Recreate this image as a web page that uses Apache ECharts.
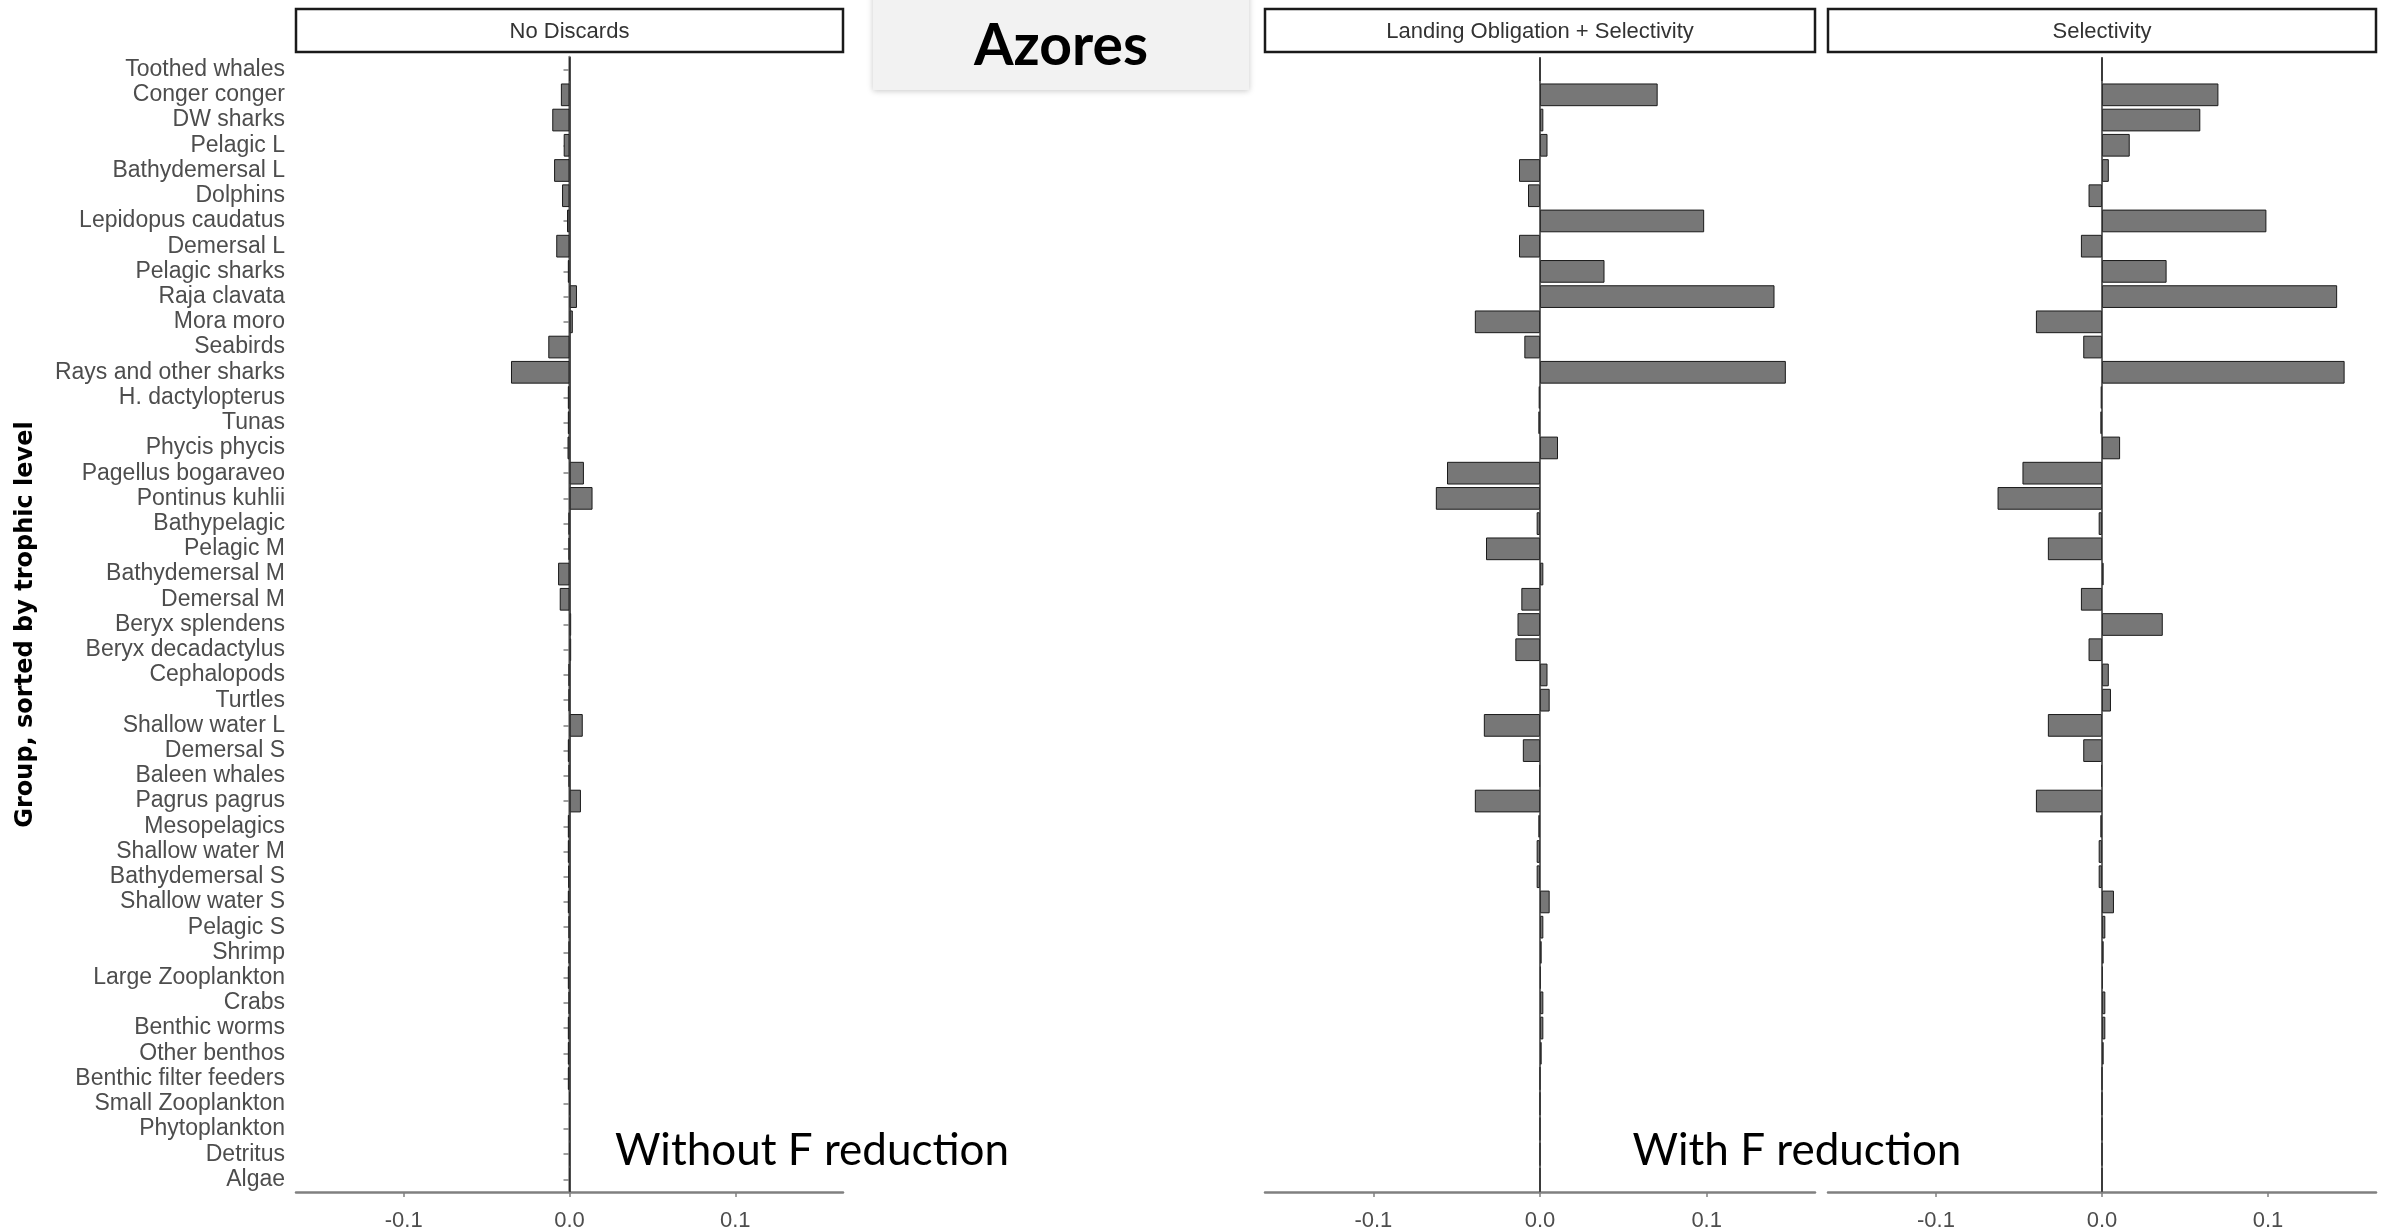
<!DOCTYPE html>
<html>
<head>
<meta charset="utf-8">
<title>Azores</title>
<script src="https://cdn.jsdelivr.net/npm/echarts@6/dist/echarts.min.js"></script>
<style>
  html, body { margin: 0; padding: 0; background: #ffffff; }
  #chart { width: 2384px; height: 1231px; }
</style>
</head>
<body>
<div id="chart"></div>
<script>
// Functional groups, sorted by trophic level (top to bottom)
const groups = [
  'Toothed whales', 'Conger conger', 'DW sharks', 'Pelagic L', 'Bathydemersal L',
  'Dolphins', 'Lepidopus caudatus', 'Demersal L', 'Pelagic sharks', 'Raja clavata',
  'Mora moro', 'Seabirds', 'Rays and other sharks', 'H. dactylopterus', 'Tunas',
  'Phycis phycis', 'Pagellus bogaraveo', 'Pontinus kuhlii', 'Bathypelagic', 'Pelagic M',
  'Bathydemersal M', 'Demersal M', 'Beryx splendens', 'Beryx decadactylus', 'Cephalopods',
  'Turtles', 'Shallow water L', 'Demersal S', 'Baleen whales', 'Pagrus pagrus',
  'Mesopelagics', 'Shallow water M', 'Bathydemersal S', 'Shallow water S', 'Pelagic S',
  'Shrimp', 'Large Zooplankton', 'Crabs', 'Benthic worms', 'Other benthos',
  'Benthic filter feeders', 'Small Zooplankton', 'Phytoplankton', 'Detritus', 'Algae'
];

// Relative change per group, scenario "No Discards"
const noDiscards = [
  0, -0.0052, -0.0104, -0.0035, -0.0093,
  -0.0045, -0.0015, -0.0080, -0.0010, 0.0045,
  0.0020, -0.0128, -0.0353, -0.0010, -0.0010,
  -0.0012, 0.0087, 0.0139, -0.0005, -0.0005,
  -0.0069, -0.0059, 0.0010, 0.0010, -0.0005,
  -0.0005, 0.0080, -0.0010, -0.0005, 0.0069,
  -0.0010, -0.0010, -0.0008, -0.0010, -0.0005,
  -0.0005, -0.0010, -0.0005, -0.0010, -0.0010,
  -0.0010, 0, 0, 0, 0
];

// Relative change per group, scenario "Landing Obligation + Selectivity"
const landingObligationSelectivity = [
  0, 0.0706, 0.0020, 0.0045, -0.0126,
  -0.0072, 0.0985, -0.0126, 0.0387, 0.1407,
  -0.0391, -0.0094, 0.1475, -0.0008, -0.0010,
  0.0108, -0.0558, -0.0625, -0.0020, -0.0324,
  0.0020, -0.0112, -0.0135, -0.0148, 0.0045,
  0.0058, -0.0337, -0.0103, -0.0005, -0.0391,
  -0.0010, -0.0020, -0.0020, 0.0058, 0.0020,
  0.0010, 0.0005, 0.0020, 0.0020, 0.0010,
  0, 0, 0, 0, 0
];

// Relative change per group, scenario "Selectivity"
const selectivity = [
  0, 0.0701, 0.0592, 0.0167, 0.0041,
  -0.0081, 0.0990, -0.0127, 0.0389, 0.1416,
  -0.0398, -0.0113, 0.1461, -0.0008, -0.0010,
  0.0109, -0.0479, -0.0629, -0.0020, -0.0326,
  0.0010, -0.0127, 0.0366, -0.0081, 0.0041,
  0.0054, -0.0326, -0.0113, -0.0005, -0.0398,
  -0.0010, -0.0020, -0.0020, 0.0072, 0.0020,
  0.0010, 0.0005, 0.0020, 0.0020, 0.0010,
  0, 0, 0, 0, 0
];

const panelTitles = ['No Discards', 'Landing Obligation + Selectivity', 'Selectivity'];
const panelValues = [noDiscards, landingObligationSelectivity, selectivity];
const xTicks = [-0.1, 0, 0.1];
const regionTitle = 'Azores';
const yAxisTitle = 'Group, sorted by trophic level';
const notes = ['Without F reduction', 'With F reduction'];

// Panel geometry (pixels)
const panels = [
  { left: 296, width: 547 },
  { left: 1265, width: 550 },
  { left: 1828, width: 548 }
];
const plotTop = 57;
const plotHeight = 1135;
const stripTop = 9;
const stripHeight = 43;

const sansFont = '"Liberation Sans", Arial, sans-serif';
const axisGrey = '#808080';
const textGrey = '#4d4d4d';

const chart = echarts.init(document.getElementById('chart'), null, { renderer: 'canvas' });

const grids = panels.map(p => ({
  left: p.left, top: plotTop, width: p.width, height: plotHeight,
  containLabel: false, outerBoundsMode: 'none'
}));

const xAxes = panels.map((p, i) => ({
  type: 'value',
  gridIndex: i,
  min: -0.165,
  max: 0.165,
  axisLine: { show: true, onZero: false, lineStyle: { color: axisGrey, width: 2.5 } },
  axisTick: { show: true, length: 5, customValues: xTicks, lineStyle: { color: axisGrey, width: 1.5 } },
  axisLabel: {
    show: true, customValues: xTicks, margin: 18,
    color: textGrey, fontSize: 22, fontFamily: sansFont,
    formatter: v => (Math.abs(v) < 1e-9 ? 0 : v).toFixed(1)
  },
  splitLine: { show: false }
}));

const yAxes = panels.map((p, i) => ({
  type: 'category',
  gridIndex: i,
  data: groups,
  inverse: true,
  boundaryGap: true,
  axisLine: { show: i === 0, lineStyle: { color: axisGrey, width: 2.5 } },
  axisTick: { show: i === 0, length: 6, alignWithLabel: true, lineStyle: { color: axisGrey, width: 1.5 } },
  axisLabel: {
    show: i === 0, interval: 0, margin: 11,
    color: textGrey, fontSize: 23, fontFamily: sansFont
  },
  splitLine: { show: false },
  name: i === 0 ? yAxisTitle : '',
  nameLocation: 'middle',
  nameRotate: 90,
  nameGap: 258,
  nameTextStyle: {
    color: '#000', fontSize: 24, fontWeight: 'bold', fontFamily: '"DejaVu Sans", sans-serif'
  }
}));

const series = panelValues.map((vals, i) => ({
  type: 'bar',
  name: panelTitles[i],
  xAxisIndex: i,
  yAxisIndex: i,
  data: vals,
  barWidth: '90%',
  itemStyle: { color: '#777777', borderColor: '#1a1a1a', borderWidth: 1 },
  emphasis: { disabled: true },
  markLine: {
    silent: true,
    symbol: ['none', 'none'],
    label: { show: false },
    lineStyle: { color: '#333333', width: 1.5, type: 'solid' },
    data: [{ xAxis: 0 }]
  }
}));

// Facet strips above each panel
const strips = panels.map((p, i) => ({
  type: 'group',
  children: [
    {
      type: 'rect',
      shape: { x: p.left, y: stripTop, width: p.width, height: stripHeight },
      style: { fill: '#ffffff', stroke: '#1a1a1a', lineWidth: 2.5 }
    },
    {
      type: 'text',
      x: p.left + p.width / 2,
      y: stripTop + stripHeight / 2 + 1,
      style: {
        text: panelTitles[i], fill: '#333333', fontSize: 22, fontFamily: sansFont,
        align: 'center', verticalAlign: 'middle'
      }
    }
  ]
}));

const titleBox = {
  type: 'group',
  children: [
    {
      type: 'rect',
      shape: { x: 873, y: -10, width: 376, height: 100 },
      style: {
        fill: '#f2f2f2',
        shadowBlur: 6, shadowColor: 'rgba(0,0,0,0.22)', shadowOffsetY: 1
      }
    },
    {
      type: 'text',
      x: 1061, y: 47,
      style: {
        text: regionTitle, fill: '#000000', fontSize: 57, fontWeight: 'bold',
        fontFamily: 'Lato, "Open Sans", sans-serif', align: 'center', verticalAlign: 'middle'
      }
    }
  ]
};

const noteTexts = [
  { x: 812, text: notes[0] },
  { x: 1797, text: notes[1] }
].map(n => ({
  type: 'text',
  x: n.x, y: 1151,
  style: {
    text: n.text, fill: '#000000', fontSize: 44,
    fontFamily: 'Lato, "Open Sans", sans-serif', align: 'center', verticalAlign: 'middle'
  }
}));

chart.setOption({
  animation: false,
  backgroundColor: '#ffffff',
  grid: grids,
  xAxis: xAxes,
  yAxis: yAxes,
  series: series,
  graphic: [].concat(strips, [titleBox], noteTexts)
});
</script>
</body>
</html>
